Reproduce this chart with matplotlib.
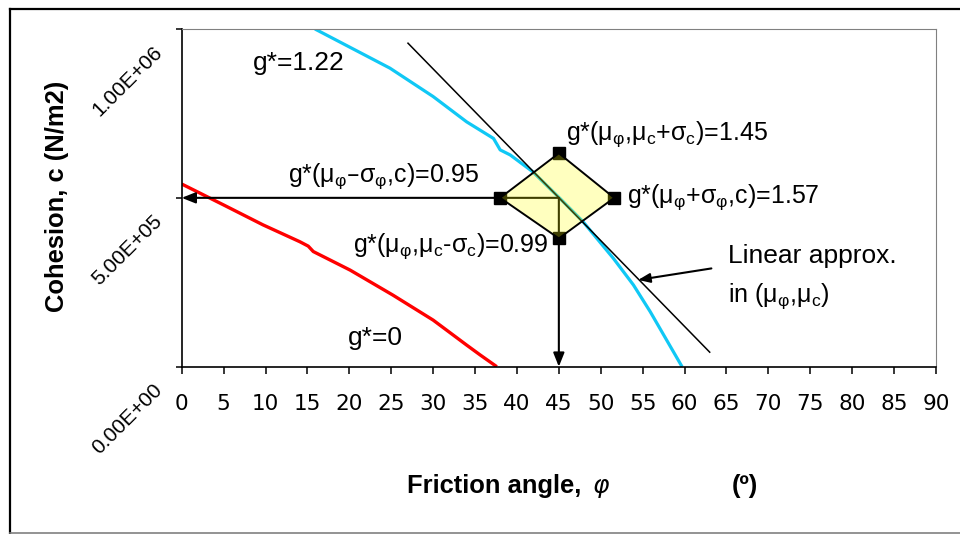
import matplotlib
matplotlib.use("Agg")
import matplotlib.pyplot as plt
import matplotlib.transforms as mtransforms
from matplotlib.lines import Line2D
from matplotlib.patches import Polygon

# ---------------- data ----------------
phi_g0 = [0, 5.0, 9.7, 14.1, 15.1, 15.7, 20.1, 25.2, 30.0, 34.0, 35.6, 37.6]
c_g0 = [541e3, 479e3, 420e3, 370e3, 357e3, 341e3, 286e3, 212e3, 138e3, 64e3, 35e3, 0]

phi_g122 = [15.9, 24.85, 30.0, 34.0, 37.2, 38.0, 39.2, 41.9, 45.1, 47.9, 51.5, 53.9, 55.9, 59.7]
c_g122 = [1.0e6, 884e3, 800e3, 725e3, 676e3, 642e3, 627e3, 577e3, 499e3, 429e3, 321e3, 242e3, 163e3, 0]

phi_lin = [27.0, 63.0]
c_lin = [958e3, 43e3]

mu_phi = 45
mu_c = 5.0e5
phi_pts = [38, 45, 51.6, 45]
c_pts = [5.0e5, 632e3, 5.0e5, 380e3]

xticks = list(range(0, 91, 5))
yticks = [0, 5.0e5, 1.0e6]
ylabels = ["0.00E+00", "5.00E+05", "1.00E+06"]

# ---------------- figure ----------------
W, H = 960, 534
fig = plt.figure(figsize=(W / 100, H / 100), dpi=100)
ax = fig.add_axes([181.7 / W, 1 - 366.7 / H, (936 - 181.7) / W, (366.7 - 29) / H])

ax.set_xlim(0, 90)
ax.set_ylim(0, 1.0e6)

for s in ["top", "right"]:
    ax.spines[s].set_color("#808080")
    ax.spines[s].set_linewidth(0.8)
for s in ["left", "bottom"]:
    ax.spines[s].set_color("black")
    ax.spines[s].set_linewidth(1.2)

ax.tick_params(axis="x", direction="out", length=5, width=1.1, pad=14.5, labelsize=15.5)
ax.tick_params(axis="y", direction="out", length=4.3, width=1.1, pad=9.2)
ax.set_xticks(xticks)
ax.set_xticklabels([str(v) for v in xticks], fontfamily="DejaVu Sans")
ax.set_yticks(yticks)
ax.set_yticklabels(ylabels, rotation=45, rotation_mode="anchor", ha="right",
                   va="baseline", fontfamily="Liberation Sans", fontsize=15)
off = mtransforms.ScaledTranslation(0, -17.3 / 72, fig.dpi_scale_trans)
for lbl in ax.get_yticklabels():
    lbl.set_transform(lbl.get_transform() + off)

# curves
ax.plot(phi_g0, c_g0, color="#FF0000", lw=2.4, solid_capstyle="butt", zorder=2)
ax.plot(phi_g122, c_g122, color="#10C8F5", lw=2.3, solid_capstyle="butt", zorder=2)
ax.plot(phi_lin, c_lin, color="black", lw=1.1, zorder=2)

# arrows from the mean point to the axes
arw = dict(arrowstyle="-|>,head_length=0.55,head_width=0.22", color="black",
           lw=1.5, mutation_scale=15, shrinkA=0, shrinkB=0)
ax.annotate("", xy=(0, mu_c), xytext=(mu_phi, mu_c), arrowprops=arw, zorder=3,
            annotation_clip=False)
ax.annotate("", xy=(mu_phi, 0), xytext=(mu_phi, mu_c), arrowprops=arw, zorder=3,
            annotation_clip=False)

# markers
ax.plot(phi_pts, c_pts, linestyle="none", marker="s", markersize=8,
        color="black", zorder=4)

# diamond
diamond = Polygon(list(zip(phi_pts, c_pts)), closed=True,
                  facecolor=(1, 1, 0, 0.25), edgecolor="black", lw=1.4, zorder=5)
ax.add_patch(diamond)

# annotations
ff = "Liberation Sans"
kw = dict(fontsize=19, fontfamily=ff, va="baseline")
kws = dict(fontsize=18, fontfamily=ff, va="baseline")
ax.text(8.54, 878e3, "g*=1.22", ha="left", **kw)
ax.text(12.68, 547e3, "g*(μ$_\\mathregular{φ}$–σ$_\\mathregular{φ}$,c)=0.95",
        ha="left", **kws)
ax.text(45.84, 671e3, "g*(μ$_\\mathregular{φ}$,μ$_\\mathregular{c}$+σ$_\\mathregular{c}$)=1.45",
        ha="left", **kws)
ax.text(53.1, 485e3, "g*(μ$_\\mathregular{φ}$+σ$_\\mathregular{φ}$,c)=1.57",
        ha="left", **kws)
ax.text(43.73, 340e3, "g*(μ$_\\mathregular{φ}$,μ$_\\mathregular{c}$-σ$_\\mathregular{c}$)=0.99",
        ha="right", zorder=6, **kws)
ax.text(65.2, 307e3, "Linear approx.", ha="left", **kw)
ax.text(65.17, 192e3, "in (μ$_\\mathregular{φ}$,μ$_\\mathregular{c}$)", ha="left", **kws)
ax.text(19.87, 64e3, "g*=0", ha="left", **kw)

ax.annotate("", xy=(54.47, 257e3), xytext=(63.2, 291e3),
            arrowprops=dict(arrowstyle="-|>,head_length=0.5,head_width=0.2",
                            color="black", lw=1.5, mutation_scale=14,
                            shrinkA=0, shrinkB=0))

# axis titles
fig.text(57 / W, 1 - 196.5 / H, "Cohesion, c (N/m2)", rotation=90, ha="center",
         va="center", fontsize=18.4, fontweight="bold", fontfamily="Liberation Sans")
fig.text(406.7 / W, 1 - 493.3 / H, "Friction angle,", ha="left", va="baseline",
         fontsize=18.4, fontweight="bold", fontfamily="Liberation Sans")
fig.text(593 / W, 1 - 493.3 / H, "φ", ha="left", va="baseline", fontsize=18,
         fontstyle="italic", fontfamily="DejaVu Sans")
fig.text(731.7 / W, 1 - 493.3 / H, "(º)", ha="left", va="baseline",
         fontsize=18.4, fontweight="bold", fontfamily="Liberation Sans")

# outer frame
fig.add_artist(Line2D([10 / W, 1.0], [1 - 8.5 / H, 1 - 8.5 / H], transform=fig.transFigure,
                      color="black", lw=1.6))
fig.add_artist(Line2D([10 / W, 10 / W], [1 - 8.5 / H, 1 - 532.5 / H], transform=fig.transFigure,
                      color="black", lw=1.6))
fig.add_artist(Line2D([10 / W, 1.0], [1 - 532.5 / H, 1 - 532.5 / H], transform=fig.transFigure,
                      color="#808080", lw=1.2))

fig.savefig("out.png", dpi=100)
